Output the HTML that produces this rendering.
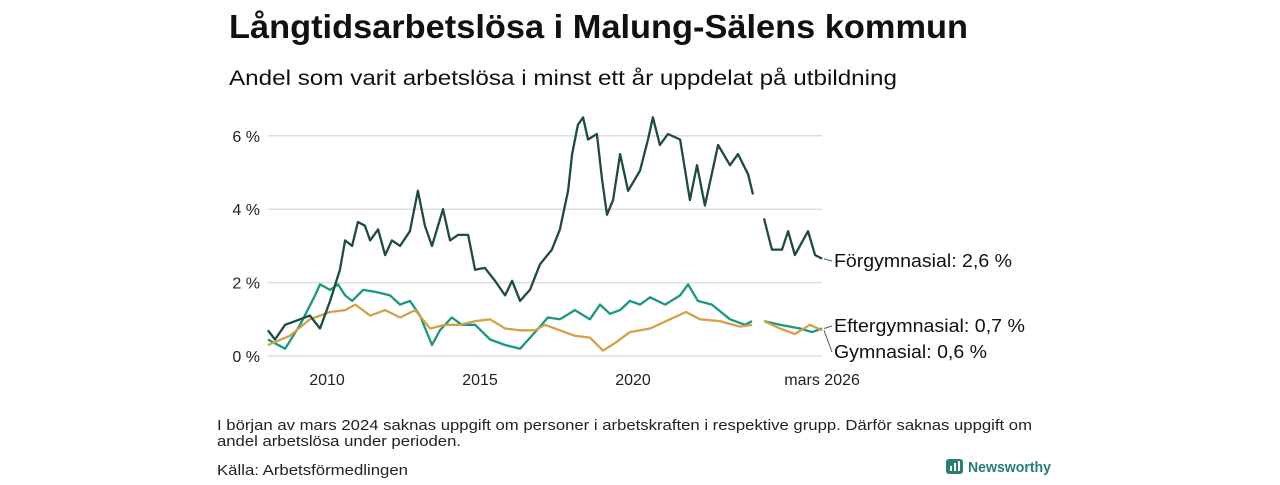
<!DOCTYPE html>
<html><head><meta charset="utf-8"><style>
body{margin:0;width:1280px;height:480px;background:#fff;font-family:"Liberation Sans","DejaVu Sans",sans-serif;overflow:hidden}
</style></head><body>
<svg width="1280" height="480" xmlns="http://www.w3.org/2000/svg">
<text x="229" y="38" font-size="33" font-weight="bold" fill="#111" textLength="739" lengthAdjust="spacingAndGlyphs">Långtidsarbetslösa i Malung-Sälens kommun</text>
<text x="229" y="85" font-size="21" fill="#111" textLength="668" lengthAdjust="spacingAndGlyphs">Andel som varit arbetslösa i minst ett år uppdelat på utbildning</text>
<g id="grid"></g><g id="axes"></g><g id="lines"></g><g id="labels"></g>
<text x="217" y="430" font-size="15" fill="#222" textLength="815" lengthAdjust="spacingAndGlyphs">I början av mars 2024 saknas uppgift om personer i arbetskraften i respektive grupp. Därför saknas uppgift om</text>
<text x="217" y="446" font-size="15" fill="#222" textLength="244" lengthAdjust="spacingAndGlyphs">andel arbetslösa under perioden.</text>
<text x="217" y="475" font-size="15" fill="#222" textLength="191" lengthAdjust="spacingAndGlyphs">Källa: Arbetsförmedlingen</text>
<g>
<rect x="946" y="459" width="17" height="15" rx="3" fill="#2a7d72"/>
<rect x="950" y="466" width="2" height="5" fill="#fff"/><rect x="954" y="463" width="2" height="8" fill="#fff"/><rect x="958" y="461" width="2" height="10" fill="#fff"/>
<text x="968" y="472" font-size="15" fill="#2a7d72" font-weight="bold" textLength="83" lengthAdjust="spacingAndGlyphs">Newsworthy</text>
</g>
</svg>
<script>
const yTicks=[0,2,4,6];
const xTicks=[2010,2015,2020];
const fgDates=[2008.07,2008.30,2008.63,2009.12,2009.44,2009.77,2010.10,2010.42,2010.59,2010.82,2011.01,2011.24,2011.41,2011.67,2011.90,2012.12,2012.39,2012.71,2012.97,2013.20,2013.43,2013.79,2014.02,2014.28,2014.61,2014.84,2015.16,2015.49,2015.82,2016.05,2016.31,2016.63,2016.96,2017.35,2017.61,2017.88,2018.01,2018.20,2018.37,2018.53,2018.82,2018.99,2019.15,2019.35,2019.58,2019.84,2020.23,2020.49,2020.65,2020.88,2021.14,2021.54,2021.86,2022.09,2022.35,2022.78,2023.17,2023.43,2023.76,2023.92,2024.1,2024.28,2024.54,2024.87,2025.07,2025.29,2025.72,2025.95,2026.18];
const fgValues=[0.7,0.45,0.85,1.0,1.1,0.75,1.5,2.35,3.15,3.0,3.65,3.55,3.15,3.45,2.75,3.15,3.0,3.4,4.5,3.55,3.0,4.0,3.15,3.3,3.3,2.35,2.4,2.05,1.65,2.05,1.5,1.8,2.5,2.9,3.45,4.5,5.5,6.3,6.5,5.9,6.05,4.8,3.85,4.25,5.5,4.5,5.05,5.9,6.5,5.75,6.05,5.9,4.25,5.2,4.1,5.75,5.2,5.5,4.95,4.4,null,3.75,2.9,2.9,3.4,2.75,3.4,2.75,2.65];
const egDates=[2008.07,2008.63,2009.12,2009.61,2009.77,2010.10,2010.36,2010.59,2010.82,2011.18,2011.57,2012.06,2012.39,2012.71,2013.04,2013.43,2013.69,2014.08,2014.41,2014.84,2015.33,2015.82,2016.31,2016.80,2017.22,2017.61,2018.10,2018.59,2018.92,2019.25,2019.58,2019.90,2020.23,2020.56,2021.05,2021.54,2021.80,2022.12,2022.58,2023.17,2023.66,2023.89,2024.1,2024.28,2024.80,2025.46,2025.85,2026.18];
const egValues=[0.45,0.2,0.85,1.65,1.95,1.8,1.95,1.65,1.5,1.8,1.75,1.65,1.4,1.5,1.1,0.3,0.7,1.05,0.85,0.85,0.45,0.3,0.2,0.65,1.05,1.0,1.25,1.0,1.4,1.15,1.25,1.5,1.4,1.6,1.4,1.65,1.95,1.5,1.4,1.0,0.85,0.95,null,0.95,0.85,0.75,0.65,0.75];
const gyDates=[2008.07,2008.79,2009.44,2010.10,2010.59,2010.92,2011.41,2011.90,2012.39,2012.88,2013.37,2013.86,2014.35,2014.84,2015.33,2015.82,2016.31,2016.80,2017.12,2017.61,2018.10,2018.59,2019.02,2019.41,2019.90,2020.56,2021.21,2021.73,2022.19,2022.84,2023.50,2023.89,2024.1,2024.28,2024.80,2025.29,2025.78,2026.18];
const gyValues=[0.3,0.55,1.0,1.2,1.25,1.4,1.1,1.25,1.05,1.25,0.75,0.85,0.85,0.95,1.0,0.75,0.7,0.7,0.85,0.7,0.55,0.5,0.15,0.35,0.65,0.75,1.0,1.2,1.0,0.95,0.8,0.85,null,0.95,0.75,0.6,0.85,0.7];
const seriesNames=["Förgymnasial: 2,6 %","Eftergymnasial: 0,7 %","Gymnasial: 0,6 %"];
const labelLens=[178,191,153];
const NS="http://www.w3.org/2000/svg";
const X=d=>327+(d-2010)*30.6;
const Y=v=>356-v*36.7;
function mk(tag,parent){const e=document.createElementNS(NS,tag);document.getElementById(parent).appendChild(e);return e;}
yTicks.forEach(t=>{
 const l=mk('line','grid');
 
 
 l.setAttribute('x1',268);l.setAttribute('x2',822);l.setAttribute('y1',Y(t));l.setAttribute('y2',Y(t));
 l.setAttribute('stroke','#ddd');l.setAttribute('stroke-width',1.5);
 const tx=mk('text','axes');
 
 
 tx.setAttribute('x',260);tx.setAttribute('y',Y(t)+6);tx.setAttribute('text-anchor','end');tx.setAttribute('font-size',16);tx.setAttribute('fill','#222');
 tx.textContent=t+' %';
});
xTicks.concat(['mars 2026']).forEach((t,i)=>{
 const tx=mk('text','axes');
 
 
 const d=typeof t==='number'?t:2026.18;
 tx.setAttribute('x',X(d));tx.setAttribute('y',385);tx.setAttribute('text-anchor','middle');tx.setAttribute('font-size',16);tx.setAttribute('fill','#222');
 tx.textContent=t;
});
function draw(dates,vals,color,name){
 let d='',pen=false;
 dates.forEach((dt,i)=>{const v=vals[i];if(v===null){pen=false;return;}d+=(pen?'L':'M')+X(dt).toFixed(1)+' '+Y(v).toFixed(1);pen=true;});
 const p=mk('path','lines');
 
 
 p.setAttribute('d',d);p.setAttribute('fill','none');p.setAttribute('stroke',color);p.setAttribute('stroke-width',2.3);p.setAttribute('stroke-linejoin','round');
}
draw(egDates,egValues,'#1a9783','eftergymnasial-line');
draw(gyDates,gyValues,'#d4a048','gymnasial-line');
draw(fgDates,fgValues,'#1f4a42','forgymnasial-line');
const lab=[[fgValues[fgValues.length-1],267,'label-forgymnasial'],[egValues[egValues.length-1],332,'label-eftergymnasial'],[gyValues[gyValues.length-1],358,'label-gymnasial']];
lab.forEach((L,i)=>{
 const ln=mk('line','labels');
 
 
 ln.setAttribute('x1',824);ln.setAttribute('y1',Y(L[0]));ln.setAttribute('x2',832);ln.setAttribute('y2',L[1]-6);ln.setAttribute('stroke','#555');
 const tx=mk('text','labels');
 
 
 tx.setAttribute('x',834);tx.setAttribute('y',L[1]);tx.setAttribute('font-size',18);tx.setAttribute('fill','#111');
 tx.setAttribute('textLength',labelLens[i]);tx.setAttribute('lengthAdjust','spacingAndGlyphs');
 tx.textContent=seriesNames[i];
});
</script>
</body></html>
